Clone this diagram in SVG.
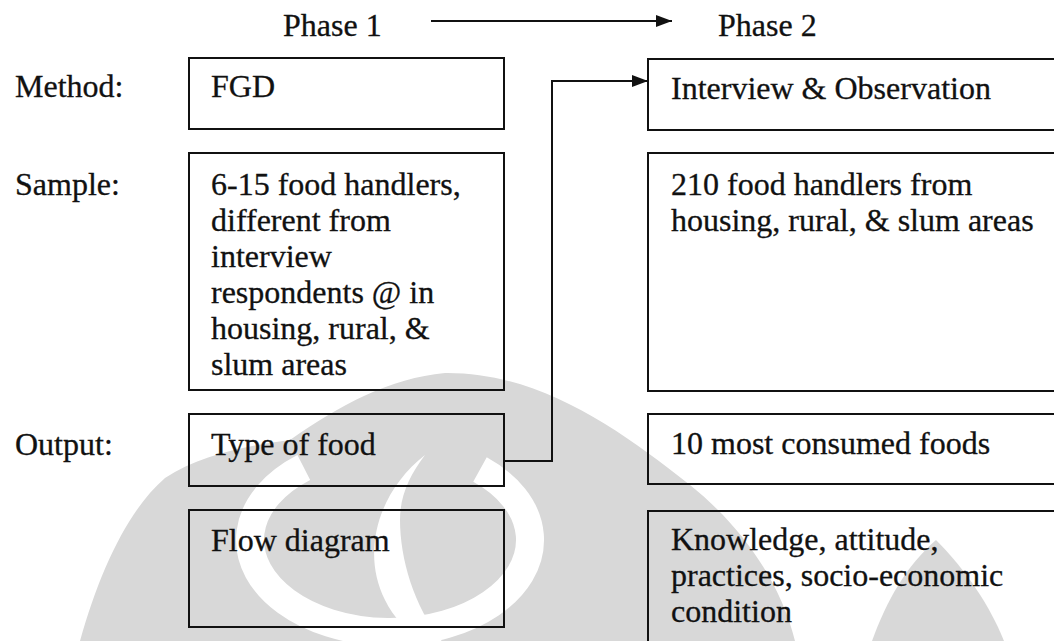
<svg xmlns="http://www.w3.org/2000/svg" width="1054" height="641" viewBox="0 0 1054 641">
  <style>
    .t { font-family: "Liberation Serif", "Times New Roman", serif; font-size: 32px; fill: #111; stroke: #111; stroke-width: 0.3; }
    .box { fill: none; stroke: #111; stroke-width: 2; }
    .link { fill: none; stroke: #111; stroke-width: 2; }
    .mark { fill: #d8d8d8; }
    .cut { fill: #fff; }
  </style>
  <defs>
    <marker id="arrow" markerUnits="userSpaceOnUse" markerWidth="16" markerHeight="12" refX="16" refY="6" orient="auto">
      <path d="M0,0 L16,6 L0,12 Z" fill="#111"/>
    </marker>
  </defs>

  <rect width="1054" height="641" fill="#fff"/>

  <!-- background emblem -->
  <g id="emblem">
    <path class="mark" d="M80 641 C100 570 128 510 165 478 C200 455 250 445 290 440 C340 405 390 378 445 373 C540 372 620 430 690 485 C740 525 780 580 795 641 Z"/>
    <path class="mark" d="M872 641 C886 602 906 566 936 540 C966 570 990 606 1004 641 Z"/>
    <path d="M480 469.5 A140 92 0 1 1 303.8 467.5" fill="none" stroke="#fff" stroke-width="28"/>
    <path class="cut" d="M425 455 C380 490 360 550 385 600 C395 620 410 635 430 645 L445 645 C415 610 400 560 400 520 C400 495 410 475 425 455 Z"/>
  </g>

  <!-- phase header -->
  <g id="header">
    <text class="t" x="283" y="36">Phase 1</text>
    <text class="t" x="718" y="36">Phase 2</text>
  </g>

  <!-- row labels -->
  <g id="labels">
    <text class="t" x="15" y="97">Method:</text>
    <text class="t" x="15" y="195">Sample:</text>
    <text class="t" x="15" y="455">Output:</text>
  </g>

  <!-- phase 1 column -->
  <g id="p1-method">
    <rect class="box" x="189" y="58" width="315" height="71"/>
    <text class="t" x="211" y="97">FGD</text>
  </g>
  <g id="p1-sample">
    <rect class="box" x="189" y="153" width="315" height="237"/>
    <text class="t" x="211" y="195">6-15 food handlers,</text>
    <text class="t" x="211" y="231">different from</text>
    <text class="t" x="211" y="267">interview</text>
    <text class="t" x="211" y="303">respondents @ in</text>
    <text class="t" x="211" y="339">housing, rural, &amp;</text>
    <text class="t" x="211" y="375">slum areas</text>
  </g>
  <g id="p1-output">
    <rect class="box" x="189" y="414" width="315" height="72"/>
    <text class="t" x="211" y="455">Type of food</text>
  </g>
  <g id="p1-flow">
    <rect class="box" x="189" y="510" width="315" height="117"/>
    <text class="t" x="211" y="551">Flow diagram</text>
  </g>

  <!-- phase 2 column -->
  <g id="p2-method">
    <rect class="box" x="648" y="59" width="420" height="71"/>
    <text class="t" x="671" y="99">Interview &amp; Observation</text>
  </g>
  <g id="p2-sample">
    <rect class="box" x="648" y="153" width="420" height="238"/>
    <text class="t" x="671" y="195">210 food handlers from</text>
    <text class="t" x="671" y="231">housing, rural, &amp; slum areas</text>
  </g>
  <g id="p2-output">
    <rect class="box" x="648" y="414" width="420" height="70"/>
    <text class="t" x="671" y="454">10 most consumed foods</text>
  </g>
  <g id="p2-kap">
    <rect class="box" x="648" y="511" width="420" height="150"/>
    <text class="t" x="671" y="550">Knowledge, attitude,</text>
    <text class="t" x="671" y="586">practices, socio-economic</text>
    <text class="t" x="671" y="622">condition</text>
  </g>

  <!-- connectors -->
  <g id="connectors">
    <path class="link" d="M431 21 H672" marker-end="url(#arrow)"/>
    <path class="link" d="M504 461 H552 V81 H648" marker-end="url(#arrow)"/>
  </g>
</svg>
